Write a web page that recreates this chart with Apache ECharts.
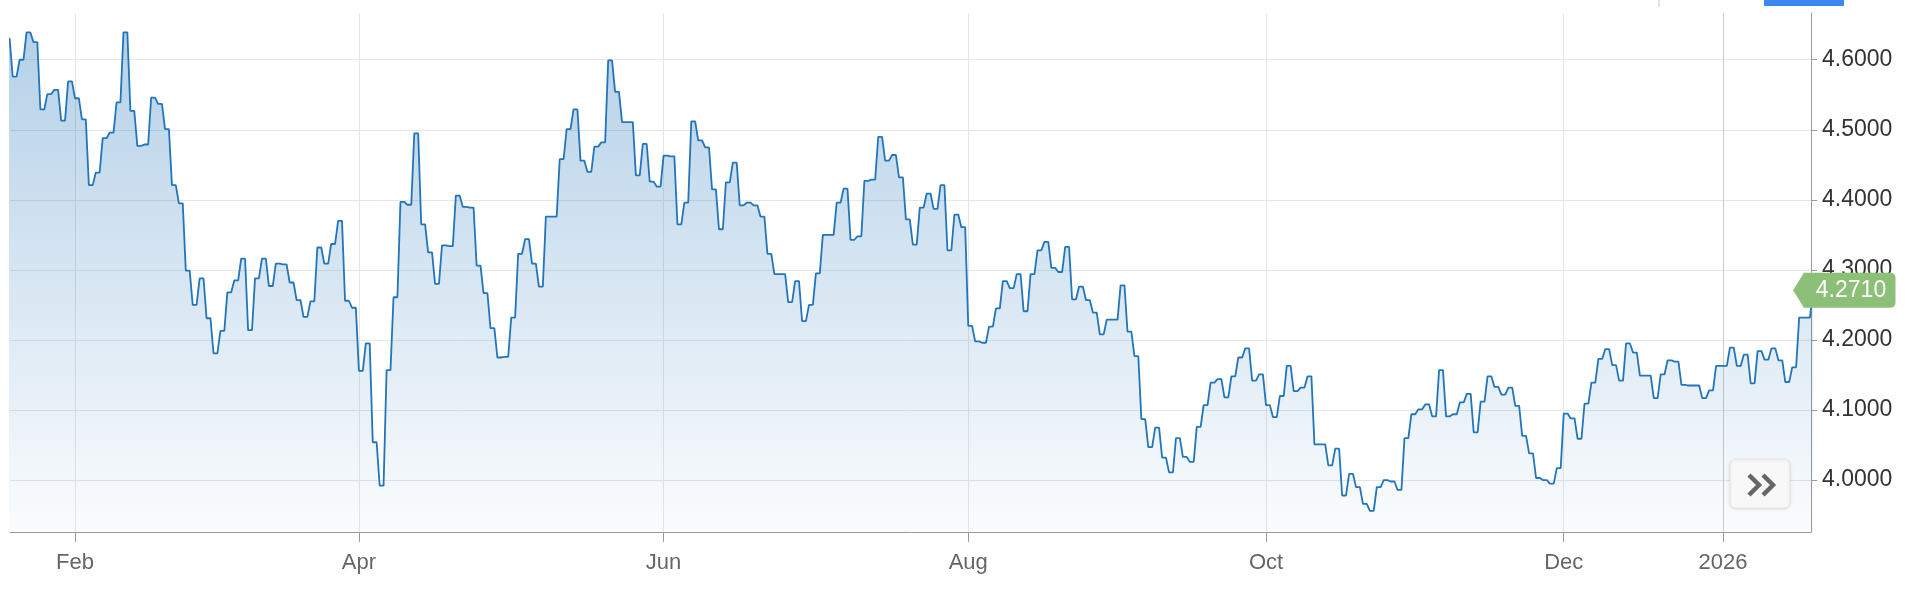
<!DOCTYPE html>
<html>
<head>
<meta charset="utf-8">
<script src="https://cdn.jsdelivr.net/npm/echarts@6/dist/echarts.min.js"></script>
<style>
html,body{margin:0;padding:0;background:#ffffff;}
#chart{width:1908px;height:590px;}
</style>
</head>
<body>
<div id="chart"></div>
<script>
// ---- data (weekday series starting Mon 2025-01-20) ----
const startDate = '2025-01-20';
const yields = [
  4.630, 4.576, 4.600, 4.639, 4.625, 4.529, 4.551, 4.557, 4.513, 4.569,
  4.545, 4.515, 4.421, 4.439, 4.488, 4.496, 4.539, 4.639, 4.527, 4.477,
  4.479, 4.546, 4.537, 4.501, 4.421, 4.395, 4.299, 4.250, 4.288, 4.231,
  4.181, 4.213, 4.268, 4.285, 4.316, 4.214, 4.288, 4.316, 4.277, 4.309,
  4.308, 4.282, 4.257, 4.233, 4.255, 4.332, 4.309, 4.337, 4.370, 4.256,
  4.246, 4.156, 4.195, 4.054, 3.992, 4.157, 4.261, 4.397, 4.393, 4.495,
  4.365, 4.325, 4.280, 4.335, 4.334, 4.406, 4.390, 4.389, 4.306, 4.267,
  4.217, 4.175, 4.176, 4.232, 4.323, 4.344, 4.309, 4.276, 4.376, 4.376,
  4.458, 4.501, 4.529, 4.456, 4.440, 4.476, 4.482, 4.599, 4.554, 4.511,
  4.511, 4.435, 4.480, 4.426, 4.419, 4.463, 4.462, 4.365, 4.396, 4.512,
  4.485, 4.475, 4.415, 4.358, 4.425, 4.453, 4.392, 4.396, 4.392, 4.376,
  4.323, 4.294, 4.294, 4.254, 4.284, 4.227, 4.250, 4.295, 4.350, 4.350,
  4.396, 4.416, 4.343, 4.348, 4.427, 4.429, 4.490, 4.456, 4.464, 4.432,
  4.372, 4.336, 4.389, 4.409, 4.387, 4.421, 4.328, 4.379, 4.361, 4.220,
  4.198, 4.196, 4.219, 4.245, 4.284, 4.274, 4.294, 4.241, 4.294, 4.328,
  4.340, 4.303, 4.297, 4.333, 4.258, 4.276, 4.257, 4.239, 4.208, 4.229,
  4.229, 4.278, 4.212, 4.177, 4.087, 4.047, 4.075, 4.032, 4.011, 4.060,
  4.033, 4.026, 4.076, 4.107, 4.139, 4.144, 4.118, 4.148, 4.175, 4.188,
  4.142, 4.151, 4.107, 4.090, 4.120, 4.163, 4.127, 4.132, 4.148, 4.051,
  4.051, 4.021, 4.045, 3.978, 4.009, 3.990, 3.966, 3.956, 3.990, 4.000,
  3.998, 3.986, 4.060, 4.094, 4.101, 4.108, 4.091, 4.157, 4.091, 4.094,
  4.111, 4.123, 4.068, 4.112, 4.148, 4.133, 4.122, 4.132, 4.106, 4.063,
  4.038, 4.003, 4.000, 3.995, 4.017, 4.095, 4.088, 4.059, 4.109, 4.139,
  4.173, 4.187, 4.164, 4.142, 4.195, 4.182, 4.149, 4.149, 4.117, 4.151,
  4.171, 4.169, 4.136, 4.135, 4.135, 4.117, 4.128, 4.163, 4.163, 4.189,
  4.163, 4.179, 4.138, 4.184, 4.172, 4.188, 4.171, 4.140, 4.161, 4.232,
  4.232, 4.271
];
const tickMonths = ['2025-02', '2025-04', '2025-06', '2025-08', '2025-10', '2025-12', '2026-01'];
const tickLabels = ['Feb', 'Apr', 'Jun', 'Aug', 'Oct', 'Dec', '2026'];
const yTickValues = [4.0, 4.1, 4.2, 4.3, 4.4, 4.5, 4.6];
const lastLabel = '4.2710';

// ---- weekday calendar ----
const dates = [];
(function () {
  const d = new Date(startDate + 'T00:00:00Z');
  while (dates.length < yields.length) {
    const wd = d.getUTCDay();
    if (wd !== 0 && wd !== 6) dates.push(d.toISOString().slice(0, 10));
    d.setUTCDate(d.getUTCDate() + 1);
  }
})();
const tickIdx = tickMonths.map(m => dates.findIndex(s => s.startsWith(m)));
const labelAt = {};
tickIdx.forEach((t, k) => { labelAt[t] = tickLabels[k]; });

// each daily value is held for part of the day, then moves to the next one
const HOLD = 0.56;
const lineData = [];
yields.forEach((v, i) => { lineData.push([i, v], [i + HOLD, v]); });
const lastIdx = yields.length - 1;
const lastVal = yields[lastIdx];

const chart = echarts.init(document.getElementById('chart'), null, {renderer: 'canvas', width: 1908, height: 590});
const FONT = '"Liberation Sans", Arial, Helvetica, sans-serif';

const option = {
  animation: false,
  backgroundColor: '#ffffff',
  grid: {left: 10, right: 97, top: 13, bottom: 58, containLabel: false, outerBoundsMode: 'none'},
  xAxis: {
    type: 'value',
    min: 0.612,
    max: lastIdx - 0.29,
    axisLine: {show: true, lineStyle: {color: '#9a9a9a', width: 1}},
    axisTick: {show: true, customValues: tickIdx, length: 10, lineStyle: {color: '#9a9a9a', width: 1}},
    axisLabel: {
      customValues: tickIdx,
      formatter: v => labelAt[v] || '',
      color: '#666666', fontSize: 22, fontFamily: FONT, margin: 20
    },
    splitLine: {show: true, lineStyle: {color: ['#e6e6e6', '#e6e6e6', '#e6e6e6', '#e6e6e6', '#e6e6e6', '#e6e6e6', '#cccccc'], width: 1}}
  },
  yAxis: {
    type: 'value',
    position: 'right',
    min: 3.9259,
    max: 4.6667,
    axisLine: {show: true, lineStyle: {color: '#9a9a9a', width: 1}},
    axisTick: {show: true, customValues: yTickValues, length: 6, lineStyle: {color: '#9a9a9a'}},
    axisLabel: {
      customValues: yTickValues,
      formatter: v => v.toFixed(4),
      color: '#333333', fontSize: 23, fontFamily: FONT, margin: 11
    },
    splitLine: {show: true, lineStyle: {color: '#e6e6e6', width: 1}}
  },
  series: [{
    type: 'line',
    data: lineData,
    showSymbol: false,
    clip: true,
    lineStyle: {color: '#2275ba', width: 1.8},
    areaStyle: {
      color: new echarts.graphic.LinearGradient(0, 0, 0, 1, [
        {offset: 0, color: 'rgba(34,117,186,0.48)'},
        {offset: 1, color: 'rgba(34,117,186,0.03)'}
      ])
    }
  }]
};
chart.setOption(option);

// last-value tag, positioned through the y scale
const tagY = chart.convertToPixel({yAxisIndex: 0}, lastVal);
chart.setOption({
  graphic: [
    {
      type: 'polygon', z: 100,
      shape: {points: [[1793, tagY], [1804, tagY - 17.5], [1804, tagY + 17.5]]},
      style: {fill: '#8cbf78'}
    },
    {
      type: 'rect', z: 100,
      shape: {x: 1803.5, y: tagY - 17.5, width: 92, height: 35, r: [0, 5, 5, 0]},
      style: {fill: '#8cbf78'}
    },
    {
      type: 'text', z: 101,
      x: 1851, y: tagY,
      style: {text: lastLabel, fill: '#ffffff', font: '23px ' + FONT, align: 'center', verticalAlign: 'middle'}
    },
    // "»" navigation button
    {
      type: 'rect', z: 100,
      shape: {x: 1730, y: 459, width: 60, height: 49, r: 6},
      style: {fill: '#f8f8f8', stroke: '#e6e6e6', lineWidth: 1, shadowBlur: 3, shadowColor: 'rgba(0,0,0,0.10)', shadowOffsetY: 1}
    },
    {
      type: 'polyline', z: 101,
      shape: {points: [[1749, 475], [1759, 485], [1749, 495]]},
      style: {stroke: '#666666', lineWidth: 4.5, fill: null}
    },
    {
      type: 'polyline', z: 101,
      shape: {points: [[1763, 475], [1773, 485], [1763, 495]]},
      style: {stroke: '#666666', lineWidth: 4.5, fill: null}
    },
    // page chrome at the top edge
    {type: 'rect', z: 100, shape: {x: 1658, y: 0, width: 2, height: 7}, style: {fill: '#e2e2e2'}},
    {type: 'rect', z: 100, shape: {x: 1764, y: 0, width: 80, height: 6}, style: {fill: '#3b88ef'}}
  ]
});
</script>
</body>
</html>
